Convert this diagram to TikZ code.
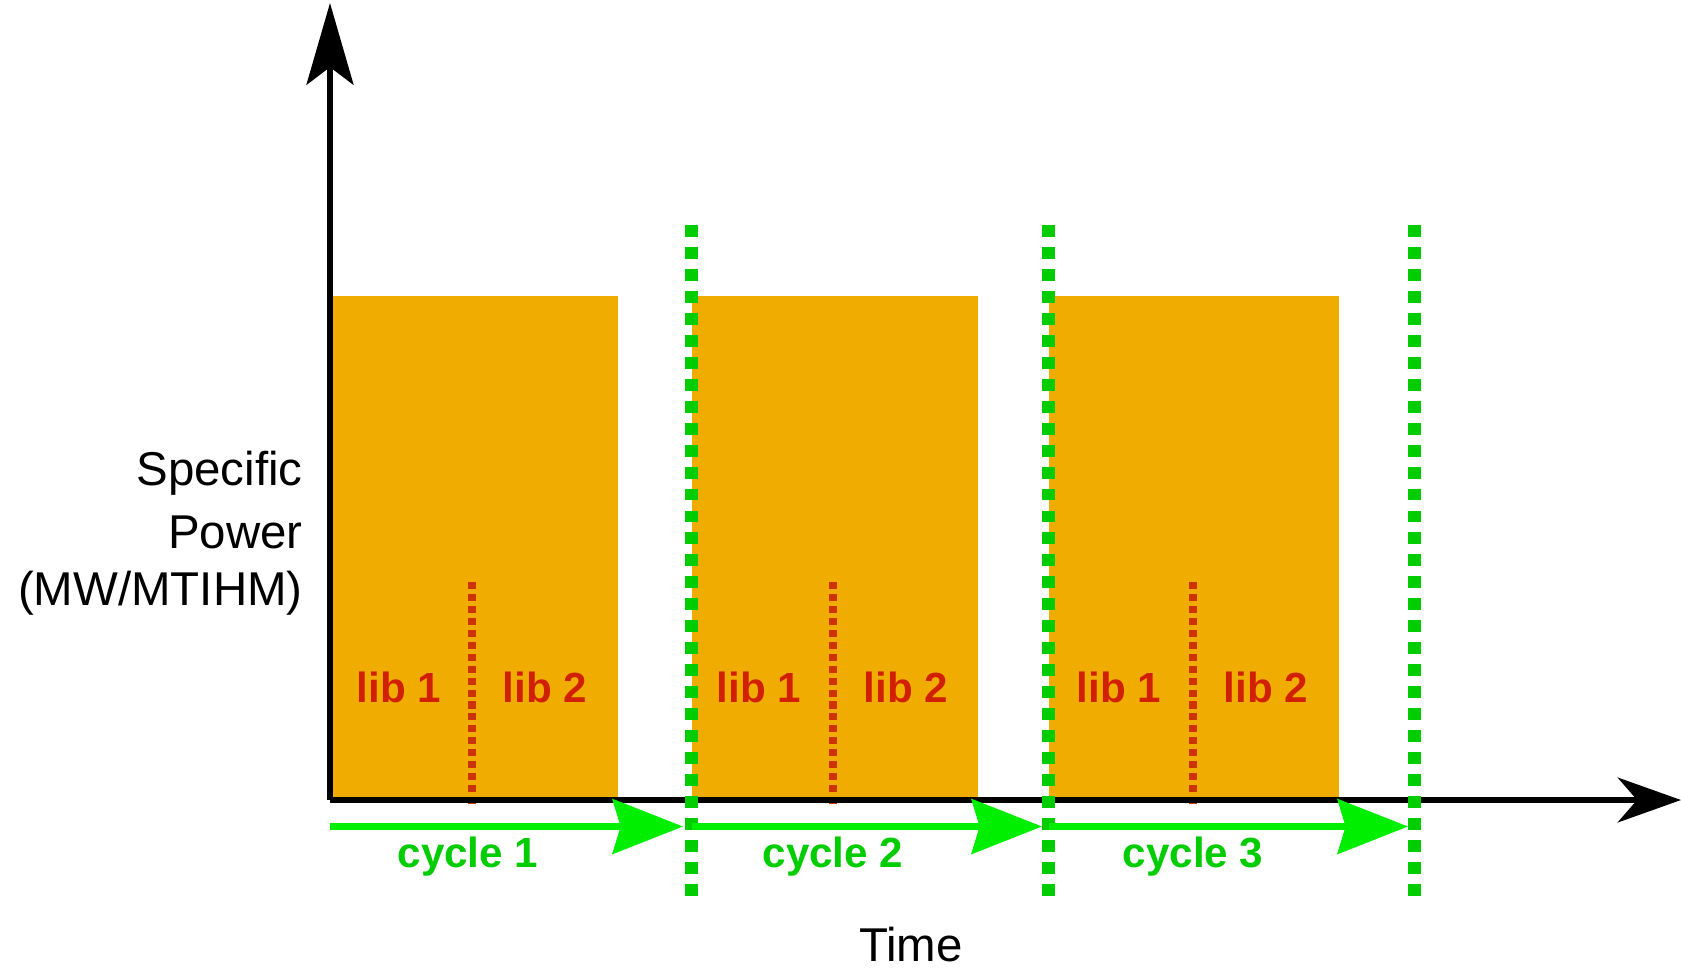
\documentclass[tikz,border=0pt]{standalone}
\usepackage{fontspec}
\setmainfont{Liberation Sans}
\usetikzlibrary{arrows.meta}
\definecolor{burnup}{RGB}{240,173,0}
\definecolor{libred}{RGB}{204,51,0}
\definecolor{libtextred}{RGB}{208,32,0}
\definecolor{cyclegreen}{RGB}{0,238,0}
\definecolor{bounddgreen}{RGB}{0,204,0}
\tikzset{
  x=0.02cm, y=-0.02cm,
  powerbox/.style={fill=burnup, draw=none},
  libsplit/.style={draw=libred, line width=4pt, dash pattern=on 4pt off 2.8pt},
  cyclebound/.style={draw=bounddgreen, line width=7.4pt, dash pattern=on 6.8pt off 5.7pt},
  cyclearrow/.style={draw=cyclegreen, line width=4pt,
    -{Stealth[length=40pt, width=31pt, inset=4.5pt, fill=cyclegreen]}},
  axisline/.style={draw=black, line width=3.4pt},
  libtext/.style={text=libtextred, font=\fontsize{24}{28}\selectfont\bfseries, anchor=base, inner sep=0pt},
  cycletext/.style={text=bounddgreen, font=\fontsize{24}{28}\selectfont\bfseries, anchor=base, inner sep=0pt},
  axistext/.style={text=black, font=\fontsize{27}{34}\selectfont, inner sep=0pt},
}
\begin{document}
\begin{tikzpicture}
\useasboundingbox (0,0) rectangle (1681,971);

% power blocks for the three cycles
\fill[powerbox] (333,296) rectangle (617.5,800);
\fill[powerbox] (691.5,296) rectangle (978,800);
\fill[powerbox] (1048.5,296) rectangle (1339,800);

% library split inside each cycle
\draw[libsplit] (472,582) -- (472,804);
\draw[libsplit] (833,582) -- (833,804);
\draw[libsplit] (1193,582) -- (1193,804);

\node[libtext] (l11) at (399,702) {lib 1};
\node[libtext] (l12) at (545,702) {lib 2};
\node[libtext] (l21) at (759,702) {lib 1};
\node[libtext] (l22) at (906,702) {lib 2};
\node[libtext] (l31) at (1119,702) {lib 1};
\node[libtext] (l32) at (1266,702) {lib 2};

% axes
\coordinate (origin) at (330,800);
\coordinate (ytip) at (330,3);
\coordinate (xtip) at (1681,800);
\draw[axisline, -{Stealth[length=46.5pt, width=26.7pt, inset=10pt]}] (origin) -- (ytip);
\draw[axisline, -{Stealth[length=36pt, width=25.5pt, inset=11pt]}] (origin) -- (xtip);

% cycle boundaries
\coordinate (b1top) at (691.5,225);  \coordinate (b1bot) at (691.5,898);
\coordinate (b2top) at (1048.5,225); \coordinate (b2bot) at (1048.5,898);
\coordinate (b3top) at (1414,225);   \coordinate (b3bot) at (1414,898);
\draw[cyclebound] (b1top) -- (b1bot);
\draw[cyclebound] (b2top) -- (b2bot);
\draw[cyclebound] (b3top) -- (b3bot);

% cycle arrows
\coordinate (c0) at (330,826.5);
\coordinate (c1) at (683,826.5);
\coordinate (c1s) at (691.5,826.5);
\coordinate (c2) at (1042,826.5);
\coordinate (c2s) at (1048.5,826.5);
\coordinate (c3) at (1408,826.5);
\draw[cyclearrow] (c0) -- (c1);
\draw[cyclearrow] (c1s) -- (c2);
\draw[cyclearrow] (c2s) -- (c3);

\node[cycletext] (cy1) at (468,867) {cycle 1};
\node[cycletext] (cy2) at (833,867) {cycle 2};
\node[cycletext] (cy3) at (1193,867) {cycle 3};

% axis labels
\node[axistext, anchor=base east] (ylab1) at (303,485) {Specific};
\node[axistext, anchor=base east] (ylab2) at (303,548) {Power};
\node[axistext, anchor=base east] (ylab3) at (303,605) {(MW/MTIHM)};
\node[axistext, anchor=base] (xlab) at (911,961) {Time};
\end{tikzpicture}
\end{document}
